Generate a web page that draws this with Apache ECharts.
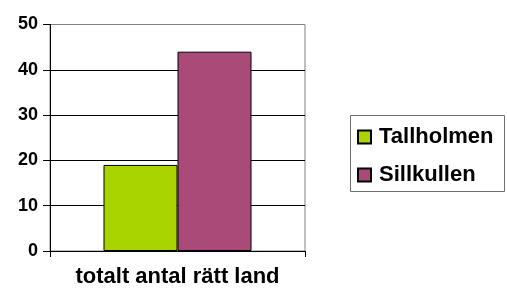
<!DOCTYPE html>
<html>
<head>
<meta charset="utf-8">
<script src="https://cdn.jsdelivr.net/npm/echarts@6/dist/echarts.min.js"></script>
<style>
html,body{margin:0;padding:0;background:#fff;}
#c{width:507px;height:288px;}
</style>
</head>
<body>
<div id="c"></div>
<script>
var categories = ['totalt antal rätt land'];
var seriesNames = ['Tallholmen', 'Sillkullen'];
var tallholmen = [19];
var sillkullen = [44];
var yTicks = [0, 10, 20, 30, 40, 50];

var FONT = '"Liberation Sans", Arial, sans-serif';
var chart = echarts.init(document.getElementById('c'), null, {renderer: 'canvas'});
chart.setOption({
  animation: false,
  backgroundColor: '#fff',
  grid: {
    left: 50, right: 202, top: 24.5, bottom: 36.5,
    show: true, borderColor: '#808080', borderWidth: 1, backgroundColor: 'transparent'
  },
  xAxis: {
    type: 'category',
    data: categories,
    boundaryGap: true,
    axisLine: {show: true, lineStyle: {color: '#000', width: 1}},
    axisTick: {show: true, length: 6, lineStyle: {color: '#000'}},
    axisLabel: {color: '#000', fontFamily: FONT, fontWeight: 'bold', fontSize: 22, margin: 15}
  },
  yAxis: {
    type: 'value',
    min: yTicks[0], max: yTicks[yTicks.length - 1], interval: 10,
    axisLine: {show: true, lineStyle: {color: '#000', width: 1}},
    axisTick: {show: true, length: 7, lineStyle: {color: '#000'}},
    axisLabel: {color: '#000', fontFamily: FONT, fontWeight: 'bold', fontSize: 18, margin: 12},
    splitLine: {show: true, lineStyle: {color: ['#000', '#000', '#000', '#000', '#000', '#808080'], width: 1}}
  },
  legend: {
    orient: 'vertical',
    left: 350, top: 115,
    padding: [11, 10, 8, 7],
    itemWidth: 13, itemHeight: 13,
    itemGap: 16,
    icon: 'rect',
    data: seriesNames,
    textStyle: {color: '#000', fontFamily: FONT, fontWeight: 'bold', fontSize: 22, padding: [0, 0, 0, 3]}
  },
  graphic: [{
    type: 'rect',
    shape: {x: 350.5, y: 115.5, width: 154, height: 76},
    style: {fill: 'none', stroke: '#707070', lineWidth: 1},
    silent: true
  }],
  series: [
    {
      name: seriesNames[0], type: 'bar', data: tallholmen,
      barWidth: 74, barGap: '0%',
      itemStyle: {color: '#aad400', borderColor: '#000', borderWidth: 1}
    },
    {
      name: seriesNames[1], type: 'bar', data: sillkullen,
      barWidth: 74, barGap: '0%',
      itemStyle: {color: '#a94a78', borderColor: '#000', borderWidth: 1}
    }
  ]
});
</script>
</body>
</html>
